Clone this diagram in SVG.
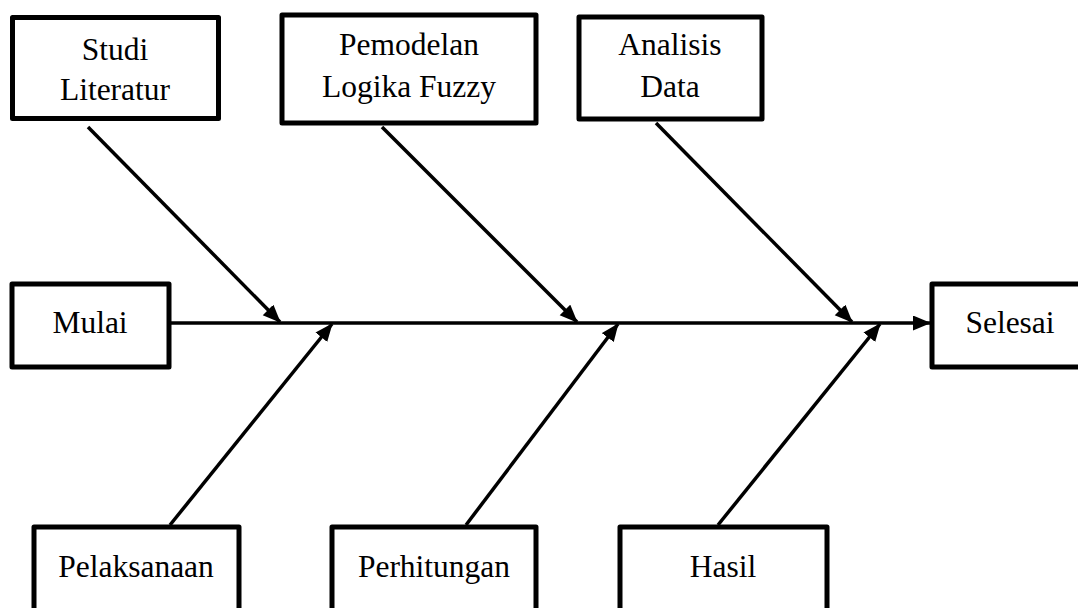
<svg xmlns="http://www.w3.org/2000/svg" width="1078" height="608" viewBox="0 0 1078 608">
<style>
.box{fill:#fff;stroke:#000;stroke-width:5;stroke-linejoin:round}
.lbl{font-family:"Liberation Serif","Times New Roman",serif;font-size:31.5px;fill:#000;text-anchor:middle}
.con{stroke:#000;stroke-width:3.5;fill:none}
</style>
<defs>
<marker id="ah" markerUnits="userSpaceOnUse" markerWidth="18" markerHeight="16" refX="17" refY="7.5" orient="auto">
<path d="M0,0 L18,7.5 L0,15 z" fill="#000"/>
</marker>
</defs>
<rect width="1078" height="608" fill="#fff"/>
<g id="connectors">
<line class="con" x1="170" y1="323" x2="930" y2="323" marker-end="url(#ah)"/>
<line class="con" x1="88" y1="127" x2="280" y2="322" marker-end="url(#ah)"/>
<line class="con" x1="382" y1="127" x2="577" y2="322" marker-end="url(#ah)"/>
<line class="con" x1="656" y1="123" x2="852" y2="322" marker-end="url(#ah)"/>
<line class="con" x1="170" y1="525" x2="332" y2="324" marker-end="url(#ah)"/>
<line class="con" x1="466" y1="525" x2="618" y2="324" marker-end="url(#ah)"/>
<line class="con" x1="718" y1="525" x2="880" y2="324" marker-end="url(#ah)"/>
</g>
<g id="studi">
<rect class="box" x="12.5" y="17.5" width="206" height="101"/>
<text class="lbl" x="115" y="60">Studi</text>
<text class="lbl" x="115" y="100">Literatur</text>
</g>
<g id="pemodelan">
<rect class="box" x="282" y="15" width="254" height="108"/>
<text class="lbl" x="409" y="55">Pemodelan</text>
<text class="lbl" x="409" y="97">Logika Fuzzy</text>
</g>
<g id="analisis">
<rect class="box" x="579" y="17" width="183" height="102"/>
<text class="lbl" x="670" y="55">Analisis</text>
<text class="lbl" x="670" y="97">Data</text>
</g>
<g id="mulai">
<rect class="box" x="12" y="284" width="157" height="83"/>
<text class="lbl" x="90" y="333">Mulai</text>
</g>
<g id="selesai">
<rect class="box" x="932" y="284" width="160" height="83"/>
<text class="lbl" x="1010" y="333">Selesai</text>
</g>
<g id="pelaksanaan">
<rect class="box" x="34" y="527" width="205" height="100"/>
<text class="lbl" x="136" y="577">Pelaksanaan</text>
</g>
<g id="perhitungan">
<rect class="box" x="332" y="527" width="204" height="100"/>
<text class="lbl" x="434" y="577">Perhitungan</text>
</g>
<g id="hasil">
<rect class="box" x="620" y="527" width="207" height="100"/>
<text class="lbl" x="723" y="577">Hasil</text>
</g>
</svg>
